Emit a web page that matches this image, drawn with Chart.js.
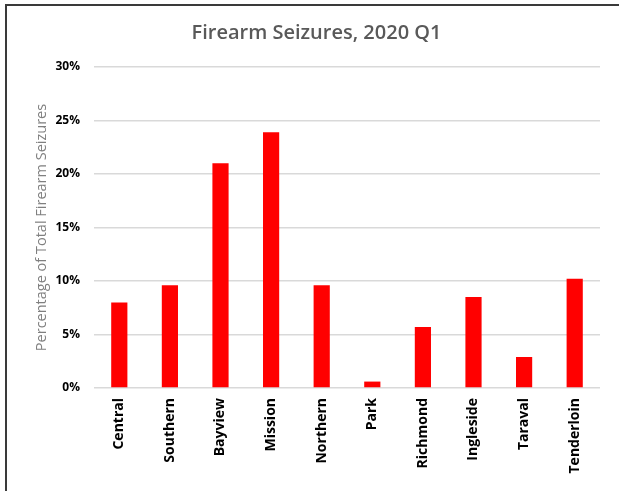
<!DOCTYPE html>
<html>
<head>
<meta charset="utf-8">
<script src="https://cdn.jsdelivr.net/npm/chart.js@4/dist/chart.umd.min.js"></script>
<style>
  html, body { margin: 0; padding: 0; background: #fff; }
  #wrap { position: relative; width: 619px; height: 491px; overflow: hidden; }
  #frame { position: absolute; left: 5px; top: 4px; width: 700px; height: 600px;
           border-top: 2px solid #3a3a3a; border-left: 2px solid #3a3a3a; box-sizing: border-box; pointer-events: none; }
  canvas { position: absolute; left: 0; top: 0; }
</style>
</head>
<body>
<div id="wrap">
  <canvas id="c" width="619" height="491"></canvas>
  <div id="frame"></div>
</div>
<script>
const categories = ["Central", "Southern", "Bayview", "Mission", "Northern", "Park", "Richmond", "Ingleside", "Taraval", "Tenderloin"];
const seizurePercent = [8.0, 9.6, 21.0, 23.9, 9.6, 0.6, 5.7, 8.5, 2.9, 10.2];
const yTicks = [0, 5, 10, 15, 20, 25, 30];
const chartTitle = "Firearm Seizures, 2020 Q1";
const yAxisTitle = "Percentage of Total Firearm Seizures";

new Chart(document.getElementById('c'), {
  type: 'bar',
  data: {
    labels: categories,
    datasets: [{
      data: seizurePercent,
      backgroundColor: '#ff0000',
      borderWidth: 0,
      barPercentage: 0.32,
      categoryPercentage: 1.0
    }]
  },
  options: {
    responsive: false,
    animation: false,
    devicePixelRatio: 1,
    layout: { padding: { left: 33, right: 19, top: 21, bottom: 0 } },
    plugins: {
      legend: { display: false },
      tooltip: { enabled: false },
      title: {
        display: true,
        text: chartTitle,
        color: '#595959',
        font: { family: 'Open Sans', size: 20, weight: '600' },
        padding: { top: 0, bottom: 22 }
      }
    },
    scales: {
      x: {
        grid: { display: false, drawTicks: false },
        border: { display: false },
        ticks: {
          color: '#000',
          font: { family: 'Open Sans', size: 14, weight: 'bold' },
          minRotation: 90, maxRotation: 90,
          padding: 10,
          autoSkip: false
        },
        afterFit: (s) => { s.height = 103; }
      },
      y: {
        min: 0, max: 30,
        afterBuildTicks: (s) => { s.ticks = yTicks.map(v => ({ value: v })); },
        grid: { color: '#d9d9d9', lineWidth: 1.5, drawTicks: false },
        border: { display: false },
        ticks: {
          color: '#000',
          font: { family: 'Open Sans', size: 12, weight: 'bold' },
          padding: 14,
          callback: (v) => v + '%'
        },
        title: {
          display: true,
          text: yAxisTitle,
          color: '#7f7f7f',
          font: { family: 'Open Sans', size: 14.5 },
          padding: 0
        },
        afterFit: (s) => { s.width = 61; }
      }
    }
  }
});
</script>
</body>
</html>
